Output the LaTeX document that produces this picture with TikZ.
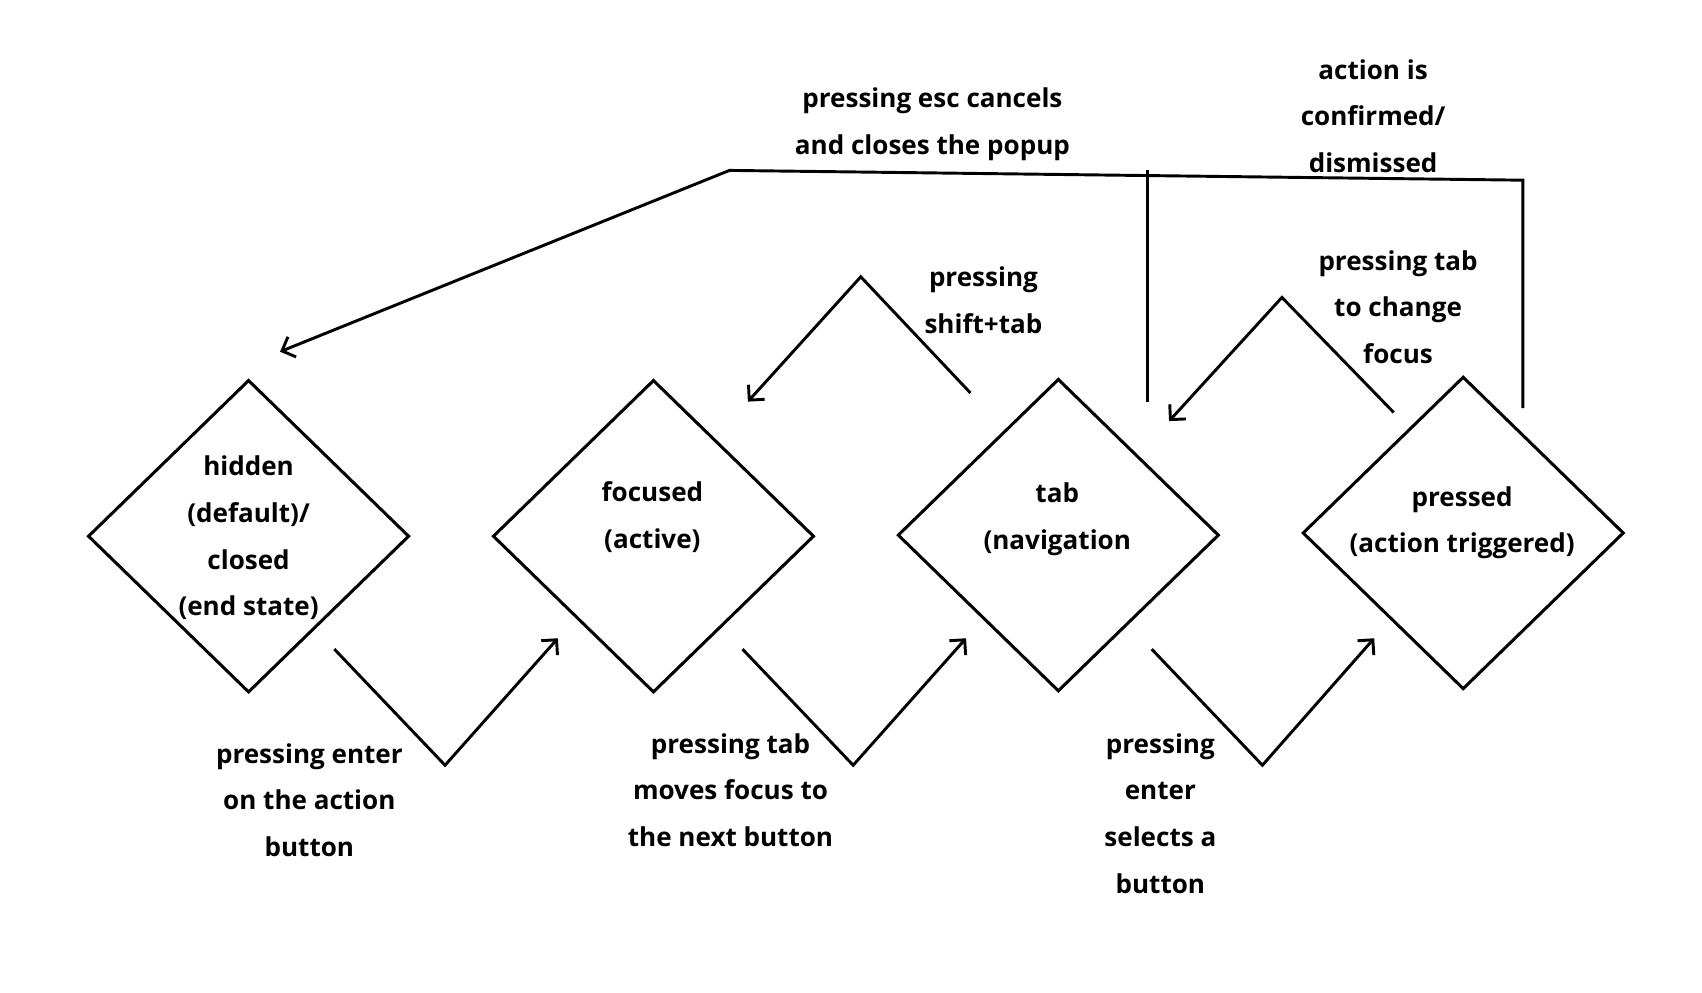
\documentclass[tikz,border=0pt]{standalone}
\usepackage{fontspec}
\setmainfont{Open Sans}
\usetikzlibrary{shapes.geometric,arrows.meta}
\begin{document}
\begin{tikzpicture}[x=0.5pt,y=-0.5pt,
  state/.style={draw,shape=diamond,minimum width=148pt,minimum height=144pt,inner sep=0pt,line width=1.4pt},
  lbl/.style={align=center,inner sep=0pt,font=\bfseries\fontsize{12}{21.5}\selectfont},
  conn/.style={line width=1.35pt,line join=miter},
  tip/.style={-{Straight Barb[length=5pt,width=10pt,line width=1.35pt]}}]
\fill[white] (0,0) rectangle (1568,914);
\useasboundingbox (0,0) rectangle (1568,914);

% states
\node[state] (d1) at (229,494) {};
\node[state] (d2) at (602,494) {};
\node[state] (d3) at (975,493) {};
\node[state] (d4) at (1348,491) {};
\node[lbl] (t1) at (229,495.5) {hidden\\(default)/\\closed\\(end state)};
\node[lbl] (t2) at (601,476.5) {focused\\(active)};
\node[lbl] (t3) at (974,478.5) {tab\\(navigation};
\node[lbl] (t4) at (1347,481.5) {pressed\\(action triggered)};

% bottom arrows
\coordinate (a1s) at (308,598); \coordinate (a1m) at (410,705); \coordinate (a1e) at (514,588);
\coordinate (a2s) at (684,598); \coordinate (a2m) at (786,705); \coordinate (a2e) at (890,588);
\coordinate (a3s) at (1061,598); \coordinate (a3m) at (1163,705); \coordinate (a3e) at (1266,588);
\draw[conn,tip] (a1s) -- (a1m) -- (a1e);
\draw[conn,tip] (a2s) -- (a2m) -- (a2e);
\draw[conn,tip] (a3s) -- (a3m) -- (a3e);
\node[lbl] (l1) at (285,737) {pressing enter\\on the action\\button};
\node[lbl] (l2) at (673,728) {pressing tab\\moves focus to\\the next button};
\node[lbl] (l3) at (1069,749.5) {pressing\\enter\\selects a\\button};

% top arrows
\coordinate (b1s) at (894,362); \coordinate (b1m) at (793,255); \coordinate (b1e) at (689,370);
\coordinate (b2s) at (1284,380); \coordinate (b2m) at (1181,274); \coordinate (b2e) at (1077,388);
\draw[conn,tip] (b1s) -- (b1m) -- (b1e);
\draw[conn,tip] (b2s) -- (b2m) -- (b2e);
\node[lbl] (l4) at (906,276.5) {pressing\\shift+tab};
\node[lbl] (l5) at (1288,283) {pressing tab\\to change\\focus};

% long return lines
\coordinate (c1) at (1403,376); \coordinate (c2) at (1403,166);
\coordinate (c3) at (672,157); \coordinate (c4) at (258,324);
\coordinate (e1) at (1057,370); \coordinate (e2) at (1057,157);
\draw[conn,tip] (c1) -- (c2) -- (c3) -- (c4);
\draw[conn] (e1) -- (e2);
\node[lbl] (l6) at (859,114.5) {pressing esc cancels\\and closes the popup};
\node[lbl] (l7) at (1265,107) {action is\\confirmed/\\dismissed};
\end{tikzpicture}
\end{document}
